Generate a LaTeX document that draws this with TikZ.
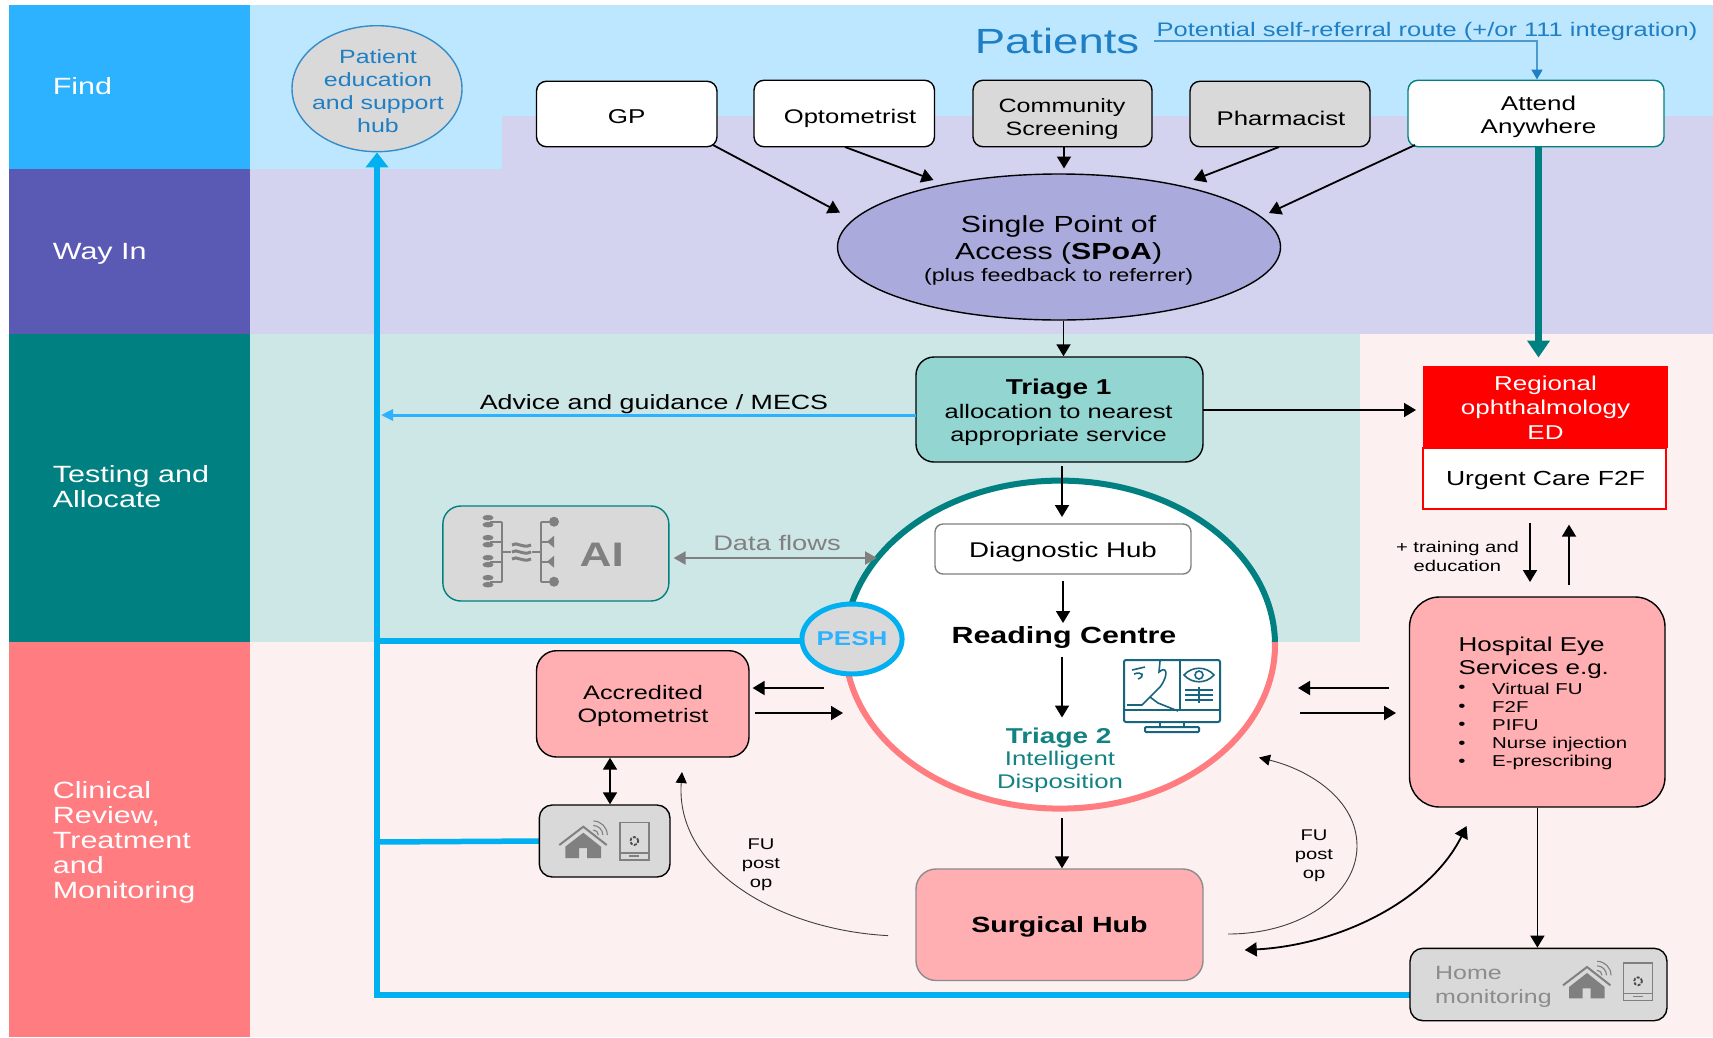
\documentclass[tikz,border=0pt]{standalone}
\usepackage{fontspec}
\setmainfont[FakeStretch=1.3]{Liberation Sans}
\usetikzlibrary{arrows.meta,shapes.geometric,calc}
\newcommand\fs[2]{\fontsize{#1}{#2}\selectfont}
\definecolor{finddark}{HTML}{2CB2FF}
\definecolor{findlight}{HTML}{BDE7FF}
\definecolor{waydark}{HTML}{5A5AB4}
\definecolor{waylight}{HTML}{D3D3EF}
\definecolor{testdark}{HTML}{008080}
\definecolor{testlight}{HTML}{CDE6E6}
\definecolor{clindark}{HTML}{FF7C80}
\definecolor{clinlight}{HTML}{FCF0F0}
\definecolor{busblue}{HTML}{00B0F0}
\definecolor{txtblue}{HTML}{1F7FC4}
\definecolor{boxgrey}{HTML}{D9D9D9}
\definecolor{pinkbox}{HTML}{FFAEB1}
\definecolor{tealbox}{HTML}{93D5D1}
\definecolor{spoafill}{HTML}{AAAADC}
\definecolor{icongrey}{HTML}{808080}
\definecolor{mon}{HTML}{17657E}
\definecolor{tealtxt}{HTML}{128282}
\tikzset{
  band/.style={fill=#1,draw=none},
  lane/.style={text=white,anchor=west,align=left,inner sep=0,yshift=-2pt,font=\fs{23.5}{25}},
  bx/.style={rectangle,inner sep=0,draw=black,line width=1.4pt},
  arr/.style={line width=1.8pt,draw=black,-{Triangle[length=12pt,width=14pt]}},
  arrr/.style={line width=1.8pt,draw=black,{Triangle[length=12pt,width=14pt]}-{Triangle[length=12pt,width=14pt]}},
  thinarr/.style={line width=.9pt,draw=black!75,-{Triangle[length=11pt,width=11pt,color=black]}},
  bus/.style={line width=5.5pt,draw=busblue},
  lbl/.style={inner sep=0,align=center,yshift=-2pt},
  homeicon/.pic={
    \fill[icongrey] (0,6)--(-18,20)--(-18,31.3)--(-4.3,31.3)--(-4.3,21.3)--(3.7,21.3)--(3.7,31.3)--(17.7,31.3)--(17.7,20)--cycle;
    \draw[icongrey,line width=2pt] (-24,18.3)--(0,0)--(23.4,18.3);
    \foreach \r in {5,9.5,14}{\draw[icongrey,line width=1.1pt] (10+\r,8.3) arc[start angle=0,end angle=90,radius=\r pt];}
    \draw[icongrey,line width=1.1pt] (36.7,-4) rectangle (65.7,33.3);
    \draw[icongrey,line width=1.2pt] (36.7,26.3)--(65.7,26.3);
    \draw[icongrey,line width=1.6pt] (46,29.5)--(56,29.5);
    \draw[black!70,line width=1.8pt,dash pattern=on 3pt off 1.5pt] (51,14.3) circle[radius=4pt];
  },
}
\begin{document}
\begin{tikzpicture}[x=1pt,y=-1pt]
\useasboundingbox (0,0) rectangle (1713,1037);
\fill[white] (0,0) rectangle (1713,1037);
% light bands
\fill[band=clinlight] (250,642) rectangle (1713,1037);
\fill[band=clinlight] (1360,333.5) rectangle (1713,642);
\fill[band=testlight] (250,333.5) rectangle (1360,642);
\fill[band=waylight] (250,169.3) rectangle (1713,333.5);
\fill[band=waylight] (502,115.6) rectangle (1713,169.3);
\fill[band=findlight] (250,5) rectangle (1713,115.6);
\fill[band=findlight] (250,115.6) rectangle (502,169.3);
% dark lanes
\fill[band=finddark] (9,5) rectangle (250,169.3);
\fill[band=waydark] (9,169.3) rectangle (250,333.5);
\fill[band=testdark] (9,333.5) rectangle (250,642);
\fill[band=clindark] (9,642) rectangle (250,1037);
\node[lane] (lfind) at (52.6,84.5) {Find};
\node[lane] (lway) at (52.6,251.7) {Way In};
\node[lane] (ltest) at (52.6,484.5) {Testing and\\Allocate};
\node[lane] (lclin) at (52.6,840.5) {Clinical\\Review,\\Treatment\\and\\Monitoring};
% patient hub
\node[ellipse,inner sep=0,minimum width=170pt,minimum height=126pt,draw=txtblue!90,line width=1.4pt,fill=boxgrey] (patient) at (377,88.7) {};
\node[lbl,text=txtblue,font=\fs{19.2}{23}] (patt) at (378,89.5) {Patient\\education\\and support\\hub};
\node[lbl,text=txtblue,font=\fs{35}{40}] (patients) at (1057,38.7) {Patients};
\node[lbl,text=txtblue,font=\fs{19.6}{24}] (selfref) at (1427,29) {Potential self-referral route (+/or 111 integration)};
% top row
\node[bx,fill=white,minimum width=180.5pt,minimum height=65.5pt,rounded corners=10pt] (gp) at (626.75,114) {};
\node[lbl,font=\fs{20}{23}] (gpt) at (626.75,115) {GP};
\node[bx,fill=white,minimum width=180.5pt,minimum height=66.5pt,rounded corners=10pt] (opt) at (844.25,113.5) {};
\node[lbl,font=\fs{19.7}{23}] (optt) at (850,116.7) {Optometrist};
\node[bx,fill=boxgrey,minimum width=179pt,minimum height=66.5pt,rounded corners=10pt] (comm) at (1062.5,113.5) {};
\node[lbl,font=\fs{19.3}{23}] (commt) at (1062,116.8) {Community\\Screening};
\node[bx,fill=boxgrey,minimum width=180pt,minimum height=65.5pt,rounded corners=10pt] (pharm) at (1280,114) {};
\node[lbl,font=\fs{19.8}{23}] (pharmt) at (1281,116.3) {Pharmacist};
\node[bx,fill=white,draw=testdark,minimum width=256pt,minimum height=66.5pt,rounded corners=10pt] (attend) at (1536,113.5) {};
\node[lbl,font=\fs{20}{23}] (attt) at (1538.5,115) {Attend\\Anywhere};
% SPoA
\node[ellipse,inner sep=0,minimum width=443pt,minimum height=146pt,draw=black,line width=1.4pt,fill=spoafill] (spoa) at (1059,247) {};
\node[lbl,font=\fs{23.3}{27}] (spoat) at (1058.6,238) {Single Point of\\Access (\textbf{SPoA})};
\node[lbl,font=\fs{18}{22}] (spoas) at (1058.6,275.3) {(plus feedback to referrer)};
% free ends
\coordinate (e1a) at (713,145); \coordinate (e1b) at (840,212.6);
\coordinate (e2a) at (845,147); \coordinate (e2b) at (933.5,180);
\coordinate (e3b) at (1064,168.5);
\coordinate (e4a) at (1279,147); \coordinate (e4b) at (1193.5,180);
\coordinate (e5a) at (1415,145); \coordinate (e5b) at (1269,213);
\draw[arr] (e1a)--(e1b);
\draw[arr] (e2a)--(e2b);
\draw[arr] (comm.south -| e3b)--(e3b);
\draw[arr] (e4a)--(e4b);
\draw[arr] (e5a)--(e5b);
% teal thick
\coordinate (tealend) at (1538.5,357.5);
\draw[line width=7pt,draw=testdark,-{Triangle[length=17pt,width=22pt]}] (attend.south -| tealend)--(tealend);
% self referral
\coordinate (srs) at (1154,41); \coordinate (src) at (1537,41);
\draw[draw=txtblue!80,line width=1.6pt,-{Triangle[length=10pt,width=11pt,color=txtblue]}] (srs)--(src)--(attend.north -| src);
% bus
\coordinate (hmin) at (1411,995); \coordinate (busb) at (377,995);
\coordinate (bus2) at (377,641); \coordinate (bus3) at (377,842);
\draw[bus,-{Triangle[length=15pt,width=22pt]}] (hmin)--(busb)--(patient.south);
\draw[bus] (bus3)--(540,841);
\draw[bus] (bus2)--(810,641);
% hub circle
\node[ellipse,inner sep=0,minimum width=430pt,minimum height=328pt,fill=white] (hub) at (1060,644.6) {};
\begin{scope}
\clip (800,470) rectangle (1300,642);
\draw[testdark,line width=6pt] (hub.center) ellipse[x radius=215pt,y radius=164pt];
\end{scope}
\begin{scope}
\clip (800,642) rectangle (1300,820);
\draw[clindark,line width=6pt] (hub.center) ellipse[x radius=215pt,y radius=164pt];
\end{scope}
% PESH
\node[ellipse,inner sep=0,minimum width=92pt,minimum height=70pt,draw=busblue,line width=5pt,fill=boxgrey,text=finddark,font=\bfseries\fs{20}{23}] (pesh) at (852,639) {PESH};
% triage 1
\node[bx,fill=tealbox,minimum width=287pt,minimum height=105pt,rounded corners=18pt] (tri1) at (1059.5,409.5) {};
\node[lbl,font=\bfseries\fs{21.5}{26}] (tri1a) at (1058.6,386.7) {Triage 1};
\node[lbl,font=\fs{19.6}{23}] (tri1b) at (1058.6,423) {allocation to nearest\\appropriate service};
\draw[arr] (spoa.south -| 1063.5,0)--(tri1.north -| 1063.5,0);
% ED
\node[rectangle,inner sep=0,fill=red,minimum width=245pt,minimum height=81.7pt] (ed) at (1545.5,406.8) {};
\node[lbl,text=white,font=\fs{20}{24.5}] (edt) at (1545.5,405.5) {Regional\\ophthalmology\\ED};
\node[rectangle,inner sep=0,fill=white,draw=red,line width=1.6pt,minimum width=243pt,minimum height=61.3pt] (urg) at (1544.5,478.4) {};
\node[lbl,font=\fs{20.4}{24}] (urgt) at (1545.5,478.3) {Urgent Care F2F};
\coordinate (e6a) at (1203,410); \coordinate (e6b) at (1416,410);
\draw[arr] (e6a)--(e6b);
% advice
\coordinate (advs) at (916,415); \coordinate (adve) at (381,415);
\draw[draw=finddark,line width=3pt,-{Triangle[length=12pt,width=11pt]}] (advs)--(adve);
\node[lbl,font=\fs{20.6}{24}] (adv) at (654,402.3) {Advice and guidance / MECS};
% diag etc
\node[bx,fill=white,draw=black!50,minimum width=256pt,minimum height=50pt,rounded corners=8pt] (diag) at (1063,549) {};
\node[lbl,font=\fs{21.3}{26}] (diagt) at (1063,550) {Diagnostic Hub};
\node[lbl,font=\bfseries\fs{23.4}{26}] (read) at (1064,635) {Reading Centre};
\node[lbl,text=tealtxt,font=\bfseries\fs{21.5}{26}] (tri2a) at (1058.6,735.6) {Triage 2};
\node[lbl,text=tealtxt,font=\fs{19.8}{23}] (tri2b) at (1060,770) {Intelligent\\Disposition};
\coordinate (d1a) at (1062,466); \coordinate (d1b) at (1062,517);
\coordinate (d2a) at (1063,581); \coordinate (d2b) at (1063,623);
\coordinate (d3a) at (1062,656.5); \coordinate (d3b) at (1062,717.5);
\coordinate (d4a) at (1062,818);
\draw[arr] (d1a)--(d1b);
\draw[arr] (d2a)--(d2b);
\draw[arr] (d3a)--(d3b);
% monitor icon
\draw[mon,line width=2pt,rounded corners=2pt] (1124,660) rectangle (1220,722);
\draw[mon,line width=2pt] (1180,660)--(1180,711) (1124,710)--(1220,710) (1160,722)--(1160,727) (1184,722)--(1184,727);
\draw[mon,line width=2pt,rounded corners=1pt] (1145,727) rectangle (1199,732);
\draw[mon,line width=1.6pt] (1160,661)--(1159,672) .. controls (1167,665) and (1169,675) .. (1160,687) -- (1150,697) -- (1142,705) -- (1127,705);
\draw[mon,line width=1.6pt] (1150,697) -- (1158,703) -- (1178,711);
\draw[mon,line width=1.6pt] (1132,670)--(1145,667) (1134,674) .. controls (1142,671) and (1146,676) .. (1138,679);
\draw[mon,line width=1.6pt] (1184,675) .. controls (1192,666) and (1206,666) .. (1214,675) .. controls (1206,684) and (1192,684) .. (1184,675) -- cycle;
\draw[mon,line width=1.6pt] (1199,675) circle[radius=4pt];
\draw[mon,line width=1.6pt] (1185,690)--(1213,690) (1185,695)--(1213,695) (1185,700)--(1213,700) (1199,687)--(1199,703);
% AI
\node[bx,fill=boxgrey,draw=testdark,minimum width=226pt,minimum height=95pt,rounded corners=18pt] (aibox) at (555.85,553.5) {};
\node[lbl,text=icongrey,font=\bfseries\fs{34}{38}] (aitxt) at (601.7,552.5) {AI};
\foreach \yy in {521.7,541.7,561.7,581.7}{
  \draw[icongrey,line width=2.4pt] (490,\yy)--(502,\yy);
  \fill[icongrey] (488,\yy-4) ellipse[x radius=5.5pt,y radius=2.8pt];
  \fill[icongrey] (488,\yy+3) ellipse[x radius=5.5pt,y radius=2.8pt];
  \draw[icongrey,line width=2.4pt] (540.7,\yy)--(552,\yy);
}
\fill[icongrey] (554,521.7) circle[radius=5pt];
\fill[icongrey] (554,581.7) circle[radius=5pt];
\fill[icongrey] (547,541.7)--(554,535.7)--(554,547.7)--cycle;
\fill[icongrey] (547,561.7)--(554,555.7)--(554,567.7)--cycle;
\draw[icongrey,line width=2.4pt] (502,521.7)--(502,581.7) (540.7,521.7)--(540.7,581.7) (502,552)--(540.7,552);
\fill[boxgrey] (511,541) rectangle (532,563);
\foreach \yy in {545,552,559}{
  \draw[icongrey,line width=3pt] (512,\yy) .. controls (517,\yy-4) and (522,\yy+4) .. (531,\yy);
}
\coordinate (dfa) at (673.6,558); \coordinate (dfb) at (877,558);
\draw[draw=icongrey,line width=2.2pt,{Triangle[length=12pt,width=13pt]}-{Triangle[length=12pt,width=13pt]}] (dfa)--(dfb);
\node[lbl,text=black!50,font=\fs{21}{24}] (dft) at (777,540.5) {Data flows};
% accredited
\node[bx,fill=pinkbox,minimum width=212.5pt,minimum height=106.3pt,rounded corners=20pt] (accr) at (642.75,703.85) {};
\node[lbl,font=\fs{19.5}{23}] (accrt) at (643,703.5) {Accredited\\Optometrist};
\coordinate (a1a) at (824,688); \coordinate (a1b) at (752.6,688);
\coordinate (a2a) at (755,713); \coordinate (a2b) at (843,713);
\draw[arr] (a1a)--(a1b);
\draw[arr] (a2a)--(a2b);
% small home
\node[bx,fill=boxgrey,minimum width=130.7pt,minimum height=72pt,rounded corners=13pt] (shome) at (604.65,841) {};
\pic at (583.3,826.7) {homeicon};
\draw[arrr] (accr.south -| 610,0)--(shome.north -| 610,0);
% FU left
\coordinate (fl1) at (888,935.6); \coordinate (fl2) at (682,772);
\draw[thinarr] (fl1) .. controls (780,930) and (675,870) .. (fl2);
\node[lbl,font=\fs{15.5}{19}] (fult) at (761,863) {FU\\post\\op};
% surgical
\node[bx,fill=pinkbox,draw=black!45,minimum width=287pt,minimum height=111.5pt,rounded corners=20pt] (surg) at (1059.5,924.75) {};
\node[lbl,font=\bfseries\fs{22}{26}] (surgt) at (1059.5,925) {Surgical Hub};
\draw[arr] (d4a)--(surg.north -| d4a);
% FU right
\coordinate (fr1) at (1228,934); \coordinate (frm) at (1357,846); \coordinate (fr2) at (1259,757.5);
\draw[thinarr] (fr1) .. controls (1300,934) and (1357,895) .. (frm) .. controls (1357,800) and (1310,770) .. (fr2);
\node[lbl,font=\fs{15.5}{19}] (furt) at (1314,854) {FU\\post\\op};
% hospital
\node[bx,fill=pinkbox,minimum width=255.5pt,minimum height=210pt,rounded corners=30pt] (hosp) at (1537.25,702) {};
\node[lbl,anchor=west,align=left,font=\fs{20}{23}] (hosph) at (1458.5,656.3) {Hospital Eye\\Services e.g.};
\foreach \n/\yy/\t in {a/686.8/Virtual FU,b/705.4/F2F,c/723.6/PIFU,d/742.6/Nurse injection,e/760.6/E-prescribing}{
  \node[lbl,font=\fs{15.7}{20}] (bul\n) at (1462,\yy) {•};
  \node[lbl,anchor=west,font=\fs{15.7}{20}] (itm\n) at (1492,\yy) {\t};
}
\coordinate (h1a) at (1389,688); \coordinate (h1b) at (1298,688);
\coordinate (h2a) at (1299.6,713); \coordinate (h2b) at (1396,713);
\draw[arr] (h1a)--(h1b);
\draw[arr] (h2a)--(h2b);
\coordinate (t1a) at (1530,523); \coordinate (t1b) at (1530,582);
\coordinate (t2a) at (1569,585); \coordinate (t2b) at (1569,524.6);
\draw[arr] (t1a)--(t1b);
\draw[arr] (t2a)--(t2b);
\node[lbl,font=\fs{15.5}{18.5}] (train) at (1457.4,554.5) {+ training and\\education};
\coordinate (sa) at (1466.6,826); \coordinate (sb) at (1244.7,950);
\draw[arrr] (sa) .. controls (1430,900) and (1340,945) .. (sb);
% home monitoring
\node[bx,fill=boxgrey,minimum width=257pt,minimum height=72.4pt,rounded corners=13pt] (hmon) at (1538.5,984.5) {};
\node[lbl,anchor=west,align=left,text=black!45,font=\fs{19.2}{23.5}] (hmont) at (1435,985) {Home\\monitoring};
\pic at (1587,967) {homeicon};
\draw[arr] (hosp.south -| 1537.4,0)--(hmon.north -| 1537.4,0);
\end{tikzpicture}
\end{document}
